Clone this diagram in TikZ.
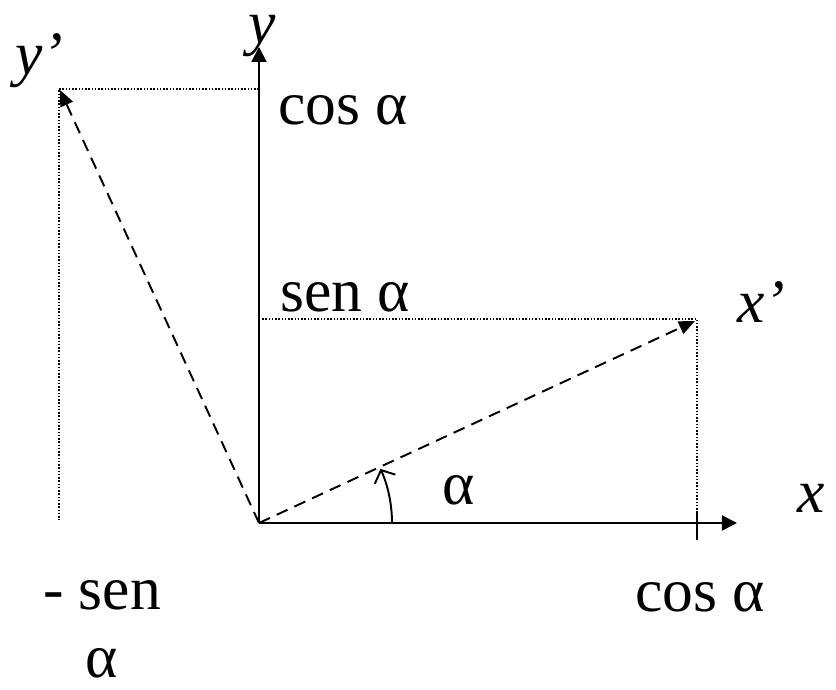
\documentclass[tikz,border=0pt]{standalone}
\usepackage{fontspec}
\setmainfont{Liberation Serif}
\usetikzlibrary{arrows.meta}

\begin{document}
\begin{tikzpicture}[x=0.2cm, y=0.2cm,
		eixo/.style={line width=1.1pt, -{Triangle[length=3mm,width=3mm]}},
		vetor/.style={line width=1.1pt, dash pattern=on 2.4mm off 1.5mm, -{Triangle[length=3.2mm,width=2.7mm]}},
		proj/.style={line width=0.8pt, dash pattern=on 0.3mm off 0.35mm},
		rotulo/.style={font=\fontsize{35}{39}\selectfont, inner sep=0pt}]
		\useasboundingbox (-25.9,-16.7) rectangle (57.7,52.3);
		\coordinate (O) at (0,0);
		\coordinate (xfim) at (47.8,0);
		\coordinate (yfim) at (0,47.6);
		\coordinate (xl) at (43.6,20.2);
		\coordinate (yl) at (-19.9,43.3);
		\coordinate (cx) at (43.8,20.4);
		\coordinate (cy) at (-20,43.4);
		\coordinate (cxeixo) at (0,20.4);
		\coordinate (cyeixo) at (0,43.4);
		\coordinate (cxbase) at (43.8,0);
		\coordinate (cybase) at (-20,0.3);
		\coordinate (tracoa) at (43.8,-1.7);
		\coordinate (tracob) at (43.8,1.2);
		\coordinate (arcini) at (13.3,0);
		\draw[eixo] (O) -- (xfim);
		\draw[eixo] (O) -- (yfim);
		\draw[proj] (cxeixo) -- (cx) -- (cxbase);
		\draw[proj] (cyeixo) -- (cy) -- (cybase);
		\draw[line width=1.1pt] (tracoa) -- (tracob);
		\draw[vetor] (O) -- (xl);
		\draw[vetor] (O) -- (yl);
		\draw[line width=1.1pt, -{Straight Barb[length=2mm,width=4.5mm]}] (arcini) arc[start angle=0, end angle=24, radius=13.3];
		\node[rotulo, anchor=base] (ly) at (0.3,47.9) {\textit{y}};
		\node[rotulo, anchor=base] (lyl) at (-22.0,44.8) {\textit{y’}};
		\node[rotulo, anchor=base west] (cosy) at (1.9,39.8) {cos α};
		\node[rotulo, anchor=base west] (seny) at (2.1,21.1) {sen α};
		\node[rotulo, anchor=base west] (lxl) at (47.8,20.0) {\textit{x’}};
		\node[rotulo, anchor=base west] (lx) at (53.8,1.0) {\textit{x}};
		\node[rotulo, anchor=base west] (la) at (18.3,1.8) {α};
		\node[rotulo, anchor=base west] (cosx) at (37.6,-8.9) {cos α};
		\node[rotulo, anchor=base, align=center] (senx) at (-15.7,-15.5) {- sen\\α};
	\end{tikzpicture}
\end{document}
